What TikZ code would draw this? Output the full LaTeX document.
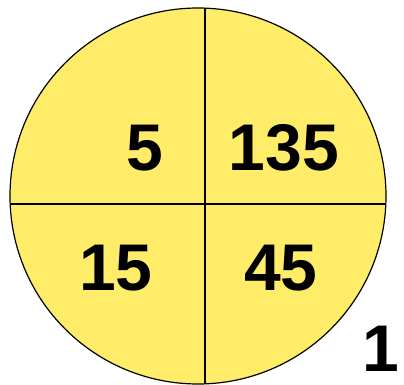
\documentclass[tikz,border=0pt]{standalone}
\usepackage{fontspec}
\setmainfont{Liberation Sans}
\usepackage{tikz}
\definecolor{pieyellow}{RGB}{255,236,104}
\tikzset{num/.style={font=\bfseries\fontsize{66}{66}\selectfont, inner sep=0pt}}

\begin{document}
\begin{tikzpicture}[x=1pt,y=1pt]
  \useasboundingbox (0,0) rectangle (404,385);
  % Draw the disc and its two chords
  \coordinate (c) at (198,189);
  \fill[pieyellow] (c) circle (188);
  \begin{scope}
    \clip (c) circle (188);
    \draw[line width=1.2pt] (205,0) -- (205,385);
    \draw[line width=1.2pt] (0,181) -- (404,181);
  \end{scope}
  \draw[line width=1.2pt] (c) circle (188);
  % Draw numbers in quarters
  \node[num] (tl) at (145,237) {5};
  \node[num] (tr) at (284,237) {135};
  \node[num] (bl) at (116,117) {15};
  \node[num] (br) at (281,117) {45};
  \node[num] (corner) at (381,36) {1};
\end{tikzpicture}
\end{document}
